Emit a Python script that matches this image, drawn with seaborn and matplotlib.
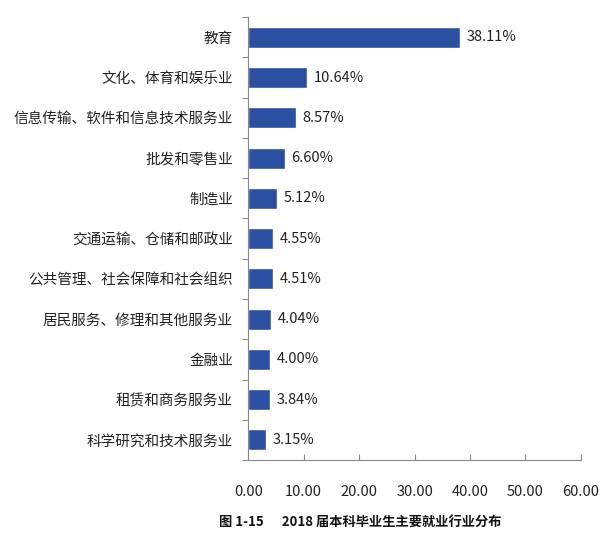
import numpy as np
import pandas as pd
import matplotlib
matplotlib.use("Agg")
import matplotlib.pyplot as plt
import seaborn as sns

# Data
industries = [
    "教育",
    "文化、体育和娱乐业",
    "信息传输、软件和信息技术服务业",
    "批发和零售业",
    "制造业",
    "交通运输、仓储和邮政业",
    "公共管理、社会保障和社会组织",
    "居民服务、修理和其他服务业",
    "金融业",
    "租赁和商务服务业",
    "科学研究和技术服务业",
]
shares = [38.11, 10.64, 8.57, 6.60, 5.12, 4.55, 4.51, 4.04, 4.00, 3.84, 3.15]
x_ticks = [0, 10, 20, 30, 40, 50, 60]
caption = "图 1-15      2018 届本科毕业生主要就业行业分布"

sns.set_theme(style="white")
plt.rcParams["font.family"] = ["Noto Sans CJK SC", "DejaVu Sans"]

df = pd.DataFrame({"industry": industries, "share": shares})

fig = plt.figure(figsize=(6.07, 5.35), dpi=100)
ax = fig.add_axes([0.409, 0.140, 0.548, 0.828])

sns.barplot(data=df, x="share", y="industry", color="#2b4fa1",
            saturation=1, width=0.52, ax=ax)

# value labels next to each bar
for i, v in enumerate(shares):
    ax.text(v + 1.2, i, f"{v:.2f}%", va="center", ha="left",
            fontsize=10.5, color="#222222")

ax.set_xlim(0, 60)
ax.set_xticks(x_ticks)
ax.set_xticklabels([f"{t:.2f}" for t in x_ticks], fontsize=10.5, color="#222222")
ax.set_xlabel("")
ax.set_ylabel("")
ax.tick_params(axis="x", bottom=True, direction="in", length=4, width=0.8,
               color="#888888", pad=18)
ax.tick_params(axis="y", which="major", left=False, length=0,
               labelsize=10.5, labelcolor="#222222", pad=11)

# small tick marks between categories on the y axis
ax.set_yticks(np.arange(-0.5, len(industries), 1), minor=True)
ax.tick_params(axis="y", which="minor", left=True, direction="out", length=4,
               width=0.8, color="#888888")
ax.set_ylim(len(industries) - 0.5, -0.5)

for side in ["top", "right"]:
    ax.spines[side].set_visible(False)
for side in ["left", "bottom"]:
    ax.spines[side].set_color("#888888")
    ax.spines[side].set_linewidth(0.8)

fig.text(0.36, 0.025, caption, ha="left", va="center", fontsize=9.5,
         fontweight="bold", color="#111111")

fig.savefig("out.png", dpi=100)
